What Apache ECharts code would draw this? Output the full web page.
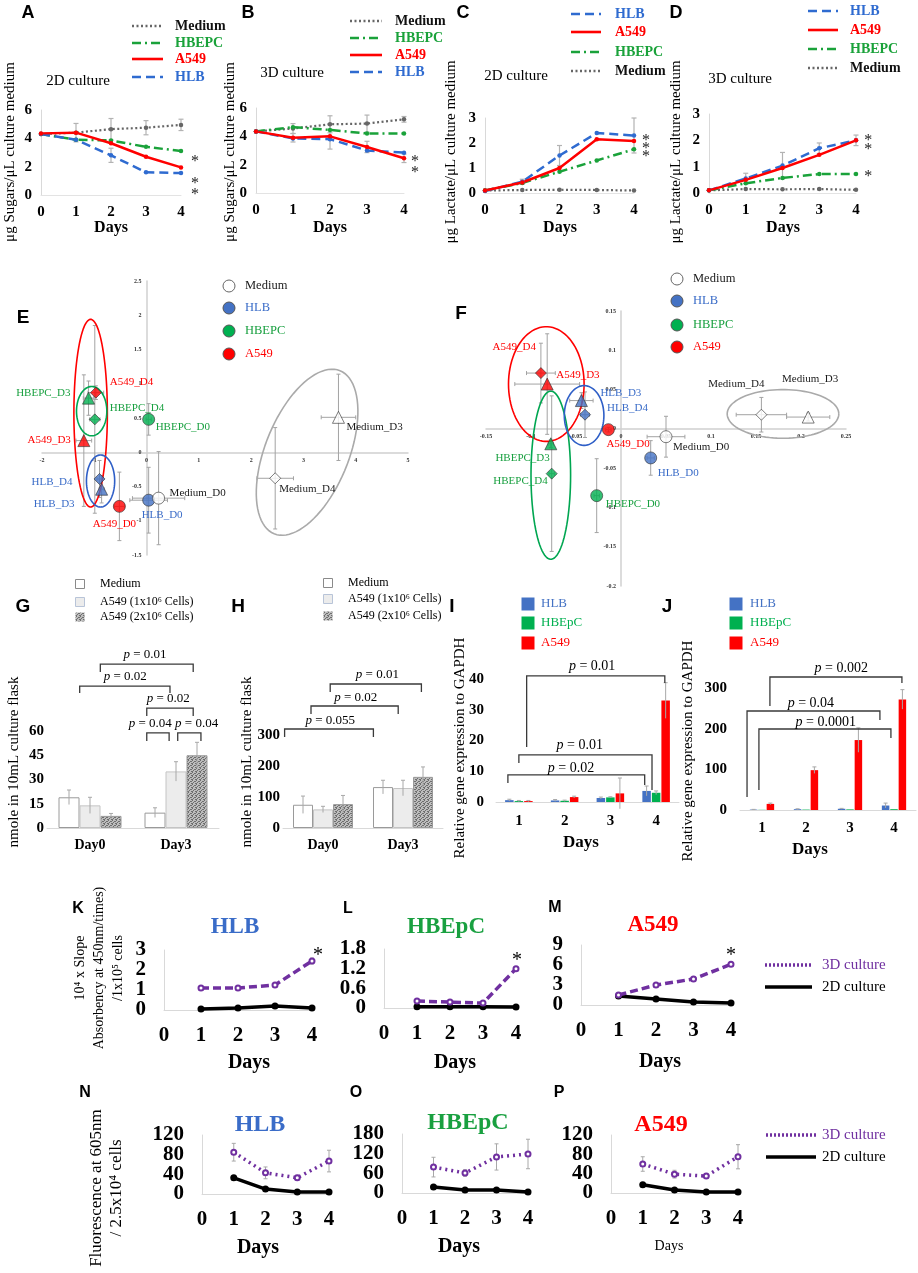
<!DOCTYPE html>
<html><head><meta charset="utf-8">
<script src="https://cdn.jsdelivr.net/npm/echarts@6/dist/echarts.min.js"></script>
<style>html,body{margin:0;padding:0;background:#fff}#c{width:918px;height:1273px}</style>
</head><body><div id="c"></div>
<script>
// ================= DATA =================
const dayTicks = [0,1,2,3,4];
// A: sugars, 2D culture
const sugar2D_Medium = [4.3,4.4,4.65,4.75,4.95];
const sugar2D_HBEPC  = [4.3,3.9,3.85,3.4,3.1];
const sugar2D_A549   = [4.35,4.4,3.65,2.7,1.95];
const sugar2D_HLB    = [4.3,3.9,2.8,1.6,1.55];
const sugar2D_MediumErr = [0,0.65,0.75,0.5,0.4];
const sugar2D_HLBErr    = [0,0,0.5,0,0];
// B: sugars, 3D culture
const sugar3D_Medium = [4.35,4.55,4.85,4.9,5.2];
const sugar3D_HBEPC  = [4.35,4.65,4.45,4.2,4.2];
const sugar3D_A549   = [4.35,3.9,4.0,3.25,2.45];
const sugar3D_HLB    = [4.35,3.85,3.8,3.0,2.85];
const sugar3D_MediumErr = [0,0.35,0.6,0.6,0.2];
const sugar3D_A549Err   = [0,0.3,0.9,0.4,0.3];
// C: lactate, 2D culture
const lact2D_HLB    = [0.08,0.45,1.5,2.4,2.3];
const lact2D_A549   = [0.1,0.42,1.0,2.15,2.08];
const lact2D_HBEPC  = [0.1,0.4,0.85,1.3,1.75];
const lact2D_Medium = [0.1,0.12,0.13,0.12,0.1];
const lact2D_HLBErr = [0,0.1,0.4,0,0.7];
// D: lactate, 3D culture
const lact3D_HLB    = [0.1,0.55,1.04,1.7,2.0];
const lact3D_A549   = [0.1,0.5,0.95,1.45,2.0];
const lact3D_HBEPC  = [0.1,0.37,0.57,0.72,0.72];
const lact3D_Medium = [0.1,0.15,0.14,0.15,0.12];
const lact3D_HLBErr = [0,0.2,0.5,0.2,0.2];

// E: PCA scores
const pcaE_names = ['A549_D4','HBEPC_D3','HBEPC_D4','A549_D3','HLB_D4','HLB_D3','A549_D0','HLB_D0','Medium_D0','HBEPC_D0','Medium_D3','Medium_D4'];
const pcaE_x    = [-0.97,-1.11,-0.99,-1.20,-0.90,-0.86,-0.52,0.04,0.23,0.04,3.67,2.46];
const pcaE_y    = [0.87,0.79,0.48,0.17,-0.39,-0.54,-0.79,-0.70,-0.67,0.48,0.51,-0.38];
const pcaE_xErr = [0.15,0.10,0.10,0.15,0.05,0.05,0.10,0.36,0.50,0.05,0.33,0.35];
const pcaE_yErr = [0.10,0.25,1.37,0.96,0.27,0.20,0.50,0.48,0.68,0.23,0.63,0.74];
const ellE_center = [[-1.07,0.57],[-1.05,0.60],[-0.88,-0.42],[3.07,0.0]];
const ellE_axisP  = [[0.32,0],[0.29,0],[0.27,0],[0.63,1.19]];
const ellE_axisQ  = [[0,1.37],[0,0.36],[0,0.38],[0.74,-0.23]];
const ellE_group  = ['A549','HBEPC','HLB','Medium'];
// F: PCA scores
const pcaF_names = ['A549_D4','A549_D3','HLB_D3','HLB_D4','A549_D0','Medium_D0','HLB_D0','HBEPC_D3','HBEPC_D4','HBEPC_D0','Medium_D4','Medium_D3'];
const pcaF_x    = [-0.089,-0.082,-0.044,-0.040,-0.014,0.050,0.033,-0.078,-0.077,-0.027,0.156,0.208];
const pcaF_y    = [0.071,0.057,0.036,0.018,-0.001,-0.010,-0.037,-0.019,-0.057,-0.085,0.018,0.015];
const pcaF_xErr = [0.016,0.036,0.013,0.005,0.003,0.021,0.004,0.003,0.003,0.003,0.028,0.024];
const pcaF_yErr = [0.038,0.064,0.010,0.029,0.003,0.026,0.022,0.005,0.099,0.047,0.022,0.005];
const ellF_center = [[-0.083,0.057],[-0.078,-0.059],[-0.041,0.017],[0.18,0.019]];
const ellF_axisP  = [[0.042,0],[0.022,0],[0.022,0],[0.062,0]];
const ellF_axisQ  = [[0,0.073],[0,0.107],[0,0.038],[0,0.031]];
const ellF_group  = ['A549','HBEPC','HLB','Medium'];

// G, H: nmole in flask
const flaskDays = ['Day0','Day3'];
const G_medium = [19,9.5],  G_mediumErr = [4.5,3];
const G_a549x1 = [14,35],   G_a549x1Err = [5,6];
const G_a549x2 = [7.5,45],  G_a549x2Err = [1.5,8];
const H_medium = [75,132],  H_mediumErr = [28,22];
const H_a549x1 = [60,129],  H_a549x1Err = [10,25];
const H_a549x2 = [77,165],  H_a549x2Err = [28,32];
// I, J: relative gene expression
const geneDays = ['1','2','3','4'];
const I_HLB   = [0.6,0.5,1.3,3.6],  I_HLBErr   = [0.3,0.3,0.3,1.6];
const I_HBEpC = [0.3,0.4,1.5,3.0],  I_HBEpCErr = [0.2,0.2,0.2,0.6];
const I_A549  = [0.3,1.6,2.8,33],   I_A549Err  = [0.2,0.3,5,5.8];
const J_HLB   = [1,2,3,11],         J_HLBErr   = [0.5,1,1,6];
const J_HBEpC = [0.5,1,1.5,2],      J_HBEpCErr = [0,0,0,0];
const J_A549  = [15,98,172,272],    J_A549Err  = [2,8,30,24];
// p-value brackets: [x1, x2, yBar, yLeftEnd, yRightEnd] (category index / value units)
const G_brackets = [[0.12,1.20,101.4,96.5,96.5],[-0.12,0.93,87.8,83.5,83.5],[0.66,1.20,74.2,69.3,69.3],[0.66,0.92,58.8,53.8,53.8],[1.02,1.29,58.8,53.8,53.8]];
const G_pValues  = ['0.01','0.02','0.02','0.04','0.04'];
const G_pAt      = [[0.64,107],[0.41,93.4],[0.91,79.8],[0.70,64.3],[1.24,64.3]];
const H_brackets = [[0.09,1.23,464.5,438.7,438.7],[-0.15,0.94,393.5,367.7,367.7],[-0.48,0.63,319.4,293.5,293.5]];
const H_pValues  = ['0.01','0.02','0.055'];
const H_pAt      = [[0.68,493.5],[0.41,419.4],[0.09,345.2]];
const I_brackets = [[0.17,3.19,41.0,17.9,38.7],[0.0,2.91,15.3,12.7,3.9],[-0.24,2.75,8.8,6.2,5.5]];
const I_pValues  = ['0.01','0.01','0.02'];
const I_pAt      = [[1.6,44.2],[1.33,18.5],[1.14,11.1]];
const J_brackets = [[0.18,3.18,327,255.7,312.3],[-0.34,2.68,243.4,32,221.3],[-0.07,2.93,199.2,49.2,177]];
const J_pValues  = ['0.002','0.04','0.0001'];
const J_pAt      = [[1.8,349],[1.11,263],[1.45,216.4]];

// K-P
const kDays = [1,2,3,4];
const K_3D = [1.1,1.1,1.25,2.45], K_3DErr = [0.05,0.05,0.05,0.15], K_2D = [0.05,0.1,0.2,0.1];
const L_3D = [0.21,0.18,0.15,1.2], L_3DErr = [0.02,0.02,0.02,0.05], L_2D = [0.04,0.04,0.04,0.03];
const M_3D = [1.5,3.0,3.9,6.1],   M_3DErr = [0.2,0.2,0.2,0.3],    M_2D = [1.35,0.9,0.45,0.3];
const N_3D = [85,43,33,67],  N_3DErr = [18,12,5,22],  N_2D = [33,10,4,4];
const O_3D = [79,61,110,119], O_3DErr = [30,10,40,45], O_2D = [18,9,9,3];
const P_3D = [60,39,35,75],  P_3DErr = [15,8,5,25],  P_2D = [17,6,2,2];
// y tick labels for K-P
const K_yTicks = ['0','1','2','3'];
const L_yTicks = ['0','0.6','1.2','1.8'];
const M_yTicks = ['0','3','6','9'];
const N_yTicks = ['0','40','80','120'];
const O_yTicks = ['0','60','120','180'];
const P_yTicks = ['0','40','80','120'];

// ================= STYLE / LAYOUT =================
const SERIF = '"Liberation Serif","Times New Roman",serif';
const SANS  = '"Liberation Sans",Arial,sans-serif';
const LS = {
  Medium:{color:'#666666', type:[2,2.5], w:2.2},
  HBEPC:{color:'#1aa23a', type:[9,4,2,4], w:2.5},
  A549:{color:'#ff0000', type:'solid', w:2.5},
  HLB:{color:'#2f6bd0', type:[9,5], w:2.5}
};
const PCOL = {Medium:'#ffffff', HLB:'#4472c4', HBEPC:'#00b050', A549:'#ff0000'};
const TCOL = {Medium:'#1a1a1a', HLB:'#3a6cc8', HBEPC:'#19a040', A549:'#ff0000'};
const ECOL = {Medium:'#aaaaaa', HLB:'#2f5fc7', HBEPC:'#00a651', A549:'#ff0000'};
const BCOL = {HLB:'#4472c4', HBEpC:'#00b050', A549:'#ff0000'};
const PURPLE = '#7030a0';
const GR = [
 {l:41,t:110,w:140,h:85},{l:256,t:108,w:148,h:85},{l:485,t:118,w:149,h:75},{l:709,t:114,w:147,h:79},
 {l:42,t:281,w:366,h:274},{l:486,t:311,w:360,h:275},
 {l:47,t:731,w:172,h:97},{l:283,t:735,w:160,h:93},{l:496,t:679,w:183,h:123},{l:740,t:688,w:176,h:122},
 {l:164,t:950,w:148,h:60},{l:384,t:949,w:132,h:59},{l:581,t:945,w:150,h:60},
 {l:202,t:1135,w:127,h:59},{l:402,t:1134,w:126,h:59},{l:611,t:1135,w:127,h:58}
];
const grid = GR.map(g=>({left:g.l, top:g.t, width:g.w, height:g.h, containLabel:false, outerBoundsMode:'none'}));
const xAxis = [], yAxis = [], series = [], gfx = [];
const lblFont = (size, weight)=>({fontFamily:SERIF, fontSize:size, fontWeight:weight||'bold', color:'#000', hideOverlap:false, showMinLabel:true, showMaxLabel:true});
const AX_LINE = {show:true, onZero:false, lineStyle:{color:'#d9d9d9', width:1}};

function grp(children){ return {type:'group', children}; }
function ln(x1,y1,x2,y2,c,w){ return {type:'line', shape:{x1,y1,x2,y2}, style:{stroke:c, lineWidth:w||1}}; }
function custom(gi, n, render, z){
  return {type:'custom', xAxisIndex:gi, yAxisIndex:gi, silent:true, clip:false, z:z||5,
    data: Array.from({length:n}, ()=>[0,0]), renderItem:(p,api)=>render(p.dataIndex, api)};
}
function catPt(api, x, y){ const o = api.coord([0,y]); return [o[0] + x*api.size([1,1])[0], o[1]]; }
function txtEl(x,y,text,font,fill,align){ return {type:'text', x, y, style:{text, font, fill:fill||'#000', align:align||'center', verticalAlign:'middle', textAlign:align||'center', textVerticalAlign:'middle'}}; }

// graphic helpers
function T(x,y,text,o){ o=o||{};
  gfx.push({type:'text', x, y, rotation:o.rot||0, z:10, silent:true, style:{text, fill:o.color||'#000',
    font:`${o.style||'normal'} ${o.weight||'normal'} ${o.size||14}px ${o.family||SERIF}`,
    align:o.align||'center', verticalAlign:'middle', textAlign:o.align||'center', textVerticalAlign:'middle', lineHeight:o.lh}}); }
function GL(x1,y1,x2,y2,c,w,dash){ gfx.push({type:'line', z:10, silent:true, shape:{x1,y1,x2,y2}, style:{stroke:c, lineWidth:w, lineDash:dash||null}}); }
function GR_(x,y,w,h,fill,stroke){ gfx.push({type:'rect', z:10, silent:true, shape:{x,y,width:w,height:h}, style:{fill, stroke:stroke||null, lineWidth:1}}); }
function GC(x,y,r,fill,stroke){ gfx.push({type:'circle', z:10, silent:true, shape:{cx:x,cy:y,r}, style:{fill, stroke, lineWidth:1}}); }

// speckle texture
function speckle(){ const c=document.createElement('canvas'); c.width=c.height=4; const g=c.getContext('2d');
  g.fillStyle='#bdbdbd'; g.fillRect(0,0,4,4); g.fillStyle='#6e6e6e';
  [[0,0],[2,1],[1,2],[3,3],[3,1],[0,3]].forEach(p=>g.fillRect(p[0],p[1],1,1)); return c; }
const SPECKLE = {image: speckle(), repeat:'repeat'};

// ================= TOP ROW (A-D) =================
function topPanel(gi, ymax, yint, lines, errs, stars){
  xAxis.push({gridIndex:gi, type:'value', min:0, max:4, interval:1, axisLine:{show:true,onZero:false,lineStyle:{color:'#e3e3e3'}}, axisTick:{show:false}, splitLine:{show:false}, axisLabel:Object.assign(lblFont(15),{margin:10})});
  yAxis.push({gridIndex:gi, type:'value', min:0, max:ymax, interval:yint, axisLine:AX_LINE, axisTick:{show:false}, splitLine:{show:false}, axisLabel:Object.assign(lblFont(15),{margin:9})});
  lines.forEach(([key, ys])=>{
    series.push({type:'line', xAxisIndex:gi, yAxisIndex:gi, silent:true, z:3, data: dayTicks.map((d,i)=>[d, ys[i]]),
      symbol:'circle', symbolSize:4.5, lineStyle:{color:LS[key].color, width:LS[key].w, type:LS[key].type}, itemStyle:{color:LS[key].color}});
  });
  errs.forEach(([ys, es])=>{
    series.push(custom(gi, ys.length, (i, api)=>{ if(!es[i]) return null;
      const a=api.coord([dayTicks[i], ys[i]-es[i]]), b=api.coord([dayTicks[i], ys[i]+es[i]]), c='#b3b3b3';
      return grp([ln(a[0],a[1],b[0],b[1],c,1.2), ln(a[0]-2.5,a[1],a[0]+2.5,a[1],c,1.2), ln(b[0]-2.5,b[1],b[0]+2.5,b[1],c,1.2)]); }, 2));
  });
  series.push(custom(gi, stars.length, (i, api)=>{ const p=api.coord(stars[i]); return txtEl(p[0], p[1]+4, '*', '16px '+SERIF, '#222'); }, 6));
}
topPanel(0, 6, 2, [['Medium',sugar2D_Medium],['HBEPC',sugar2D_HBEPC],['HLB',sugar2D_HLB],['A549',sugar2D_A549]],
  [[sugar2D_Medium,sugar2D_MediumErr],[sugar2D_HLB,sugar2D_HLBErr]], [[4.4,2.61],[4.4,1.06],[4.4,0.28]]);
topPanel(1, 6, 2, [['Medium',sugar3D_Medium],['HBEPC',sugar3D_HBEPC],['HLB',sugar3D_HLB],['A549',sugar3D_A549]],
  [[sugar3D_Medium,sugar3D_MediumErr],[sugar3D_A549,sugar3D_A549Err]], [[4.3,2.47],[4.3,1.69]]);
topPanel(2, 3, 1, [['Medium',lact2D_Medium],['HBEPC',lact2D_HBEPC],['HLB',lact2D_HLB],['A549',lact2D_A549]],
  [[lact2D_HLB,lact2D_HLBErr]], [[4.32,2.24],[4.32,1.92],[4.32,1.6]]);
topPanel(3, 3, 1, [['Medium',lact3D_Medium],['HBEPC',lact3D_HBEPC],['HLB',lact3D_HLB],['A549',lact3D_A549]],
  [[lact3D_HLB,lact3D_HLBErr]], [[4.33,2.13],[4.33,1.79],[4.33,0.76]]);

function topLegend(x1,x2,tx,rows,keys){
  keys.forEach((k,i)=>{ GL(x1,rows[i],x2,rows[i],LS[k].color,2.6,LS[k].type==='solid'?null:LS[k].type);
    T(tx,rows[i],k,{align:'left',weight:'bold',size:14,color:k==='Medium'?'#111':LS[k].color}); });
}
topLegend(132,163,175,[26,43,59,77],['Medium','HBEPC','A549','HLB']);
topLegend(350,382,395,[21,38,55,72],['Medium','HBEPC','A549','HLB']);
topLegend(571,601,615,[14,32,52,71],['HLB','A549','HBEPC','Medium']);
topLegend(808,838,850,[11,30,49,68],['HLB','A549','HBEPC','Medium']);
T(78,81,'2D culture',{size:15}); T(292,73,'3D culture',{size:15}); T(516,76,'2D culture',{size:15}); T(740,79,'3D culture',{size:15});
T(10,152,'μg Sugars/μL culture medium',{size:15,rot:Math.PI/2});
T(230,152,'μg Sugars/μL culture medium',{size:15,rot:Math.PI/2});
T(451,152,'μg Lactate/μL culture medium',{size:15,rot:Math.PI/2});
T(676,152,'μg Lactate/μL culture medium',{size:15,rot:Math.PI/2});
[[111,'Days'],[330,'Days'],[560,'Days'],[783,'Days']].forEach(d=>T(d[0],228,d[1],{size:16,weight:'bold'}));

// ================= E, F (PCA) =================
const SYM = {D0:'circle', D3:'triangle', D4:'diamond'}, SSZ = {D0:12, D3:12, D4:11};
const labE = [[14,-11,'left'],[-18,-5,'right'],[15,-11,'left'],[-13,0,'right'],[-27,3,'right'],[-27,15,'right'],[-5,18,'center'],[-7,15,'left'],[11,-5,'left'],[7,8,'left'],[8,10,'left'],[4,11,'left']];
const labF = [[-5,-26,'right'],[9,-9,'left'],[19,-7,'left'],[22,-7,'left'],[-2,14,'left'],[7,10,'left'],[7,15,'left'],[-1,14,'right'],[-4,7,'right'],[9,8,'left'],[3,-31,'right'],[2,-38,'center']];
function pcaPanel(gi, xr, yr, names, xs, ys, xe, ye, lab, ec, ep, eq, eg){
  const g = GR[gi];
  const axLbl = {fontFamily:SERIF, fontSize:6, fontWeight:'bold', color:'#333', margin:5, hideOverlap:false};
  // axes cross at the origin: shift each axis onto the other axis's zero
  const yShift = (0 - yr[0])/(yr[1]-yr[0]) * g.h;
  const xShift = (0 - xr[0])/(xr[1]-xr[0]) * g.w;
  xAxis.push({gridIndex:gi, type:'value', position:'bottom', offset:-yShift, min:xr[0], max:xr[1], interval:xr[2], axisLine:{show:true,onZero:false,lineStyle:{color:'#d0d0d0',width:1.5}}, axisTick:{show:false}, splitLine:{show:false}, axisLabel:axLbl});
  yAxis.push({gridIndex:gi, type:'value', position:'left', offset:-xShift, min:yr[0], max:yr[1], interval:yr[2], axisLine:{show:true,onZero:false,lineStyle:{color:'#d0d0d0',width:1.5}}, axisTick:{show:false}, splitLine:{show:false}, axisLabel:axLbl});
  series.push({type:'scatter', xAxisIndex:gi, yAxisIndex:gi, z:4, silent:true,
    data: names.map((n,i)=>{ const [g,d]=n.split('_'); return {value:[xs[i],ys[i]], symbol:SYM[d], symbolSize:SSZ[d], itemStyle:{color:PCOL[g], borderColor:'#333', borderWidth:0.8}}; })});
  series.push(custom(gi, names.length, (i, api)=>{
    const c=api.coord([xs[i],ys[i]]), a=api.coord([xs[i]-xe[i],ys[i]-ye[i]]), b=api.coord([xs[i]+xe[i],ys[i]+ye[i]]), k='#a3a3a3';
    return grp([ln(a[0],c[1],b[0],c[1],k,1), ln(c[0],a[1],c[0],b[1],k,1), ln(a[0],c[1]-2,a[0],c[1]+2,k,1), ln(b[0],c[1]-2,b[0],c[1]+2,k,1), ln(c[0]-2,a[1],c[0]+2,a[1],k,1), ln(c[0]-2,b[1],c[0]+2,b[1],k,1)]);
  }, 2));
  series.push(custom(gi, ec.length, (i, api)=>{
    const pts=[]; for(let s=0;s<=90;s++){ const t=s/90*2*Math.PI;
      pts.push(api.coord([ec[i][0]+ep[i][0]*Math.cos(t)+eq[i][0]*Math.sin(t), ec[i][1]+ep[i][1]*Math.cos(t)+eq[i][1]*Math.sin(t)])); }
    return {type:'polyline', shape:{points:pts}, style:{stroke:ECOL[eg[i]], lineWidth:1.6, fill:'none'}};
  }, 3));
  series.push(custom(gi, names.length, (i, api)=>{
    const c=api.coord([xs[i],ys[i]]), o=lab[i], g=names[i].split('_')[0];
    return txtEl(c[0]+o[0], c[1]+o[1], names[i], '11px '+SERIF, TCOL[g], o[2]);
  }, 6));
}
pcaPanel(4, [-2,5,1], [-1.5,2.5,0.5], pcaE_names, pcaE_x, pcaE_y, pcaE_xErr, pcaE_yErr, labE, ellE_center, ellE_axisP, ellE_axisQ, ellE_group);
pcaPanel(5, [-0.15,0.25,0.05], [-0.2,0.15,0.05], pcaF_names, pcaF_x, pcaF_y, pcaF_xErr, pcaF_yErr, labF, ellF_center, ellF_axisP, ellF_axisQ, ellF_group);
function pcaLegend(cx, tx, rows){
  ['Medium','HLB','HBEPC','A549'].forEach((k,i)=>{ GC(cx,rows[i],6,PCOL[k],k==='Medium'?'#666':'#555'); T(tx,rows[i],k,{align:'left',size:12.5,color:TCOL[k]}); });
}
pcaLegend(229,245,[286,308,331,354]);
pcaLegend(677,693,[279,301,325,347]);

// ================= G, H, I, J (bars) =================
function barPanel(gi, cats, ymax, yint, lblSize, xMargin, yMargin, bars, bw, gap, brackets, pvals, pAt, pSize){
  xAxis.push({gridIndex:gi, type:'category', data:cats, axisLine:{show:true,lineStyle:{color:'#d9d9d9'}}, axisTick:{show:false}, splitLine:{show:false}, axisLabel:Object.assign(lblFont(lblSize[0]),{margin:xMargin})});
  yAxis.push({gridIndex:gi, type:'value', min:0, max:ymax, interval:yint, axisLine:{show:false}, axisTick:{show:false}, splitLine:{show:false}, axisLabel:Object.assign(lblFont(lblSize[1]),{margin:yMargin})});
  bars.forEach(b=>series.push({type:'bar', xAxisIndex:gi, yAxisIndex:gi, silent:true, z:2, data:b.v, barWidth:bw, barGap:gap,
    itemStyle:{color:b.fill, borderColor:b.stroke||'transparent', borderWidth:b.stroke?1:0}}));
  const step = bw*(1+parseFloat(gap)/100), n = bars.length;
  const items=[]; bars.forEach((b,k)=>b.v.forEach((v,c)=>items.push([c,k,v,b.e[c]])));
  series.push(custom(gi, items.length, (i, api)=>{ const [c,k,v,e]=items[i]; if(!e) return null;
    const x = api.coord([c,0])[0] + (k-(n-1)/2)*step, y1=api.coord([c,v-e])[1], y2=api.coord([c,v+e])[1], col='#a8a8a8';
    return grp([ln(x,y1,x,y2,col,1), ln(x-2,y2,x+2,y2,col,1)]); }, 4));
  series.push(custom(gi, brackets.length, (i, api)=>{ const b=brackets[i];
    const p1=catPt(api,b[0],b[3]), p2=catPt(api,b[0],b[2]), p3=catPt(api,b[1],b[2]), p4=catPt(api,b[1],b[4]);
    return {type:'polyline', shape:{points:[p1,p2,p3,p4]}, style:{stroke:'#3a3a3a', lineWidth:1.3, fill:'none'}}; }, 5));
  series.push(custom(gi, pvals.length, (i, api)=>{ const p=catPt(api,pAt[i][0],pAt[i][1]);
    return {type:'text', x:p[0], y:p[1], style:{text:'{i|p} = '+pvals[i], fontFamily:SERIF, fontSize:pSize, fill:'#000', align:'center', verticalAlign:'middle', textAlign:'center', textVerticalAlign:'middle',
      rich:{i:{fontFamily:SERIF, fontSize:pSize, fontStyle:'italic', fill:'#000'}}}}; }, 6));
}
barPanel(6, flaskDays, 60, 15, [14,15], 10, 3, [
  {v:G_medium, e:G_mediumErr, fill:'#ffffff', stroke:'#9a9a9a'},
  {v:G_a549x1, e:G_a549x1Err, fill:'#ececec', stroke:'#c4c4c4'},
  {v:G_a549x2, e:G_a549x2Err, fill:SPECKLE, stroke:'#9a9a9a'}], 21, '0%', G_brackets, G_pValues, G_pAt, 13);
barPanel(7, flaskDays, 300, 100, [14,15], 10, 3, [
  {v:H_medium, e:H_mediumErr, fill:'#ffffff', stroke:'#9a9a9a'},
  {v:H_a549x1, e:H_a549x1Err, fill:'#ececec', stroke:'#c4c4c4'},
  {v:H_a549x2, e:H_a549x2Err, fill:SPECKLE, stroke:'#9a9a9a'}], 20, '0%', H_brackets, H_pValues, H_pAt, 13);
barPanel(8, geneDays, 40, 10, [15,15], 12, 12, [
  {v:I_HLB, e:I_HLBErr, fill:BCOL.HLB}, {v:I_HBEpC, e:I_HBEpCErr, fill:BCOL.HBEpC}, {v:I_A549, e:I_A549Err, fill:BCOL.A549}],
  8.5, '12%', I_brackets, I_pValues, I_pAt, 14);
barPanel(9, geneDays, 300, 100, [15,15], 11, 13, [
  {v:J_HLB, e:J_HLBErr, fill:BCOL.HLB}, {v:J_HBEpC, e:J_HBEpCErr, fill:BCOL.HBEpC}, {v:J_A549, e:J_A549Err, fill:BCOL.A549}],
  7.5, '12%', J_brackets, J_pValues, J_pAt, 14);
function flaskLegend(cx, tx, rows){
  GR_(cx-4.5,rows[0]-4.5,9,9,'#fff','#8a8a8a'); GR_(cx-4.5,rows[1]-4.5,9,9,'#ececec','#b8c4d8'); GR_(cx-4.5,rows[2]-4.5,9,9,SPECKLE,null);
  T(tx,rows[0],'Medium',{align:'left',size:12}); T(tx,rows[1],'A549 (1x10⁶ Cells)',{align:'left',size:12}); T(tx,rows[2],'A549 (2x10⁶ Cells)',{align:'left',size:12});
}
flaskLegend(80,100,[584,602,617]); flaskLegend(328,348,[583,599,616]);
function geneLegend(cx, tx, rows){
  ['HLB','HBEpC','A549'].forEach((k,i)=>{ GR_(cx-6.5,rows[i]-6.5,13,13,BCOL[k],null); T(tx,rows[i],k,{align:'left',size:13,color:BCOL[k]}); });
}
geneLegend(528,541,[604,623,643]); geneLegend(736,750,[604,623,643]);
T(14,762,'nmole in 10mL culture flask',{size:15,rot:Math.PI/2});
T(247,762,'nmole in 10mL culture flask',{size:15,rot:Math.PI/2});
T(460,748,'Relative gene expression to GAPDH',{size:15,rot:Math.PI/2});
T(688,751,'Relative gene expression to GAPDH',{size:15,rot:Math.PI/2});
T(581,843,'Days',{size:17,weight:'bold'}); T(810,850,'Days',{size:17,weight:'bold'});

// ================= K-P (time courses) =================
function kPanel(gi, ymax, yint, yTicks, d3, e3, d2, style3D, star){
  xAxis.push({gridIndex:gi, type:'value', min:0, max:4, interval:1, axisLine:{show:true,onZero:false,lineStyle:{color:'#d9d9d9'}}, axisTick:{show:false}, splitLine:{show:false}, axisLabel:Object.assign(lblFont(21),{margin:15})});
  yAxis.push({gridIndex:gi, type:'value', min:0, max:ymax, interval:yint, axisLine:AX_LINE, axisTick:{show:false}, splitLine:{show:false}, axisLabel:{show:false}});
  // tightly spaced y tick labels, placed through the axis scale
  series.push(custom(gi, yTicks.length, (i, api)=>{ const p=api.coord([0, parseFloat(yTicks[i])]);
    return txtEl(p[0]-18, p[1], yTicks[i], 'bold 21px '+SERIF, '#000', 'right'); }, 6));
  series.push({type:'line', xAxisIndex:gi, yAxisIndex:gi, silent:true, z:3, data:kDays.map((d,i)=>[d,d2[i]]), symbol:'circle', symbolSize:7,
    lineStyle:{color:'#000', width:3.5}, itemStyle:{color:'#000'}});
  series.push({type:'line', xAxisIndex:gi, yAxisIndex:gi, silent:true, z:4, data:kDays.map((d,i)=>[d,d3[i]]), symbol:'emptyCircle', symbolSize:5,
    lineStyle:{color:PURPLE, width:3.5, type:style3D}, itemStyle:{color:PURPLE, borderColor:PURPLE, borderWidth:1.5}});
  series.push(custom(gi, kDays.length, (i, api)=>{ if(!e3[i]) return null;
    const a=api.coord([kDays[i],d3[i]-e3[i]]), b=api.coord([kDays[i],d3[i]+e3[i]]), c='#a8a8a8';
    return grp([ln(a[0],a[1],b[0],b[1],c,1), ln(a[0]-2,a[1],a[0]+2,a[1],c,1), ln(b[0]-2,b[1],b[0]+2,b[1],c,1)]); }, 2));
  if(star) series.push(custom(gi, 1, (i, api)=>{ const p=api.coord(star); return txtEl(p[0], p[1]+6, '*', '20px '+SERIF, '#000'); }, 6));
}
kPanel(10, 3, 1, K_yTicks, K_3D, K_3DErr, K_2D, [8,4], [4.16,3.0]);
kPanel(11, 1.8, 0.6, L_yTicks, L_3D, L_3DErr, L_2D, [8,4], [4.03,1.62]);
kPanel(12, 9, 3, M_yTicks, M_3D, M_3DErr, M_2D, [8,4], [4.0,8.25]);
kPanel(13, 120, 40, N_yTicks, N_3D, N_3DErr, N_2D, [2,4], null);
kPanel(14, 180, 60, O_yTicks, O_3D, O_3DErr, O_2D, [2,4], null);
kPanel(15, 120, 40, P_yTicks, P_3D, P_3DErr, P_2D, [2,4], null);
T(235,927,'HLB',{size:23,weight:'bold',color:'#3a6cc8'}); T(446,927,'HBEpC',{size:23,weight:'bold',color:'#19a040'}); T(653,925,'A549',{size:23,weight:'bold',color:'#ff0000'});
T(260,1125,'HLB',{size:24,weight:'bold',color:'#3a6cc8'}); T(468,1123,'HBEpC',{size:24,weight:'bold',color:'#19a040'}); T(661,1125,'A549',{size:24,weight:'bold',color:'#ff0000'});
T(249,1063,'Days',{size:20,weight:'bold'}); T(455,1063,'Days',{size:20,weight:'bold'}); T(660,1062,'Days',{size:20,weight:'bold'});
T(258,1248,'Days',{size:20,weight:'bold'}); T(459,1247,'Days',{size:20,weight:'bold'}); T(669,1246,'Days',{size:14});
T(99,968,'10⁴ x Slope\nAbsorbency at 450nm/times)\n/1x10⁵ cells',{size:14,rot:Math.PI/2,lh:19});
T(107,1188,'Fluorescence at 605nm\n/ 2.5x10⁴ cells',{size:17,rot:Math.PI/2,lh:20});
function kLegend(y1,y2,x1,x2,tx,dash){
  GL(x1,y1,x2,y1,PURPLE,3.5,dash); T(tx,y1,'3D culture',{align:'left',size:15,color:PURPLE});
  GL(x1,y2,x2,y2,'#000',3.5,null); T(tx,y2,'2D culture',{align:'left',size:15});
}
kLegend(965,987,765,812,822,[2,2]); kLegend(1135,1157,766,816,822,[2,2]);

// panel letters
[['A',28,13],['B',248,13],['C',463,13],['D',676,13]].forEach(l=>T(l[1],l[2],l[0],{family:SANS,weight:'bold',size:18}));
[['E',23,318],['F',461,314],['G',23,607],['H',238,607],['I',452,607],['J',667,607]].forEach(l=>T(l[1],l[2],l[0],{family:SANS,weight:'bold',size:19}));
[['K',78,909],['L',348,909],['M',555,908],['N',85,1093],['O',356,1093],['P',559,1093]].forEach(l=>T(l[1],l[2],l[0],{family:SANS,weight:'bold',size:16}));

const chart = echarts.init(document.getElementById('c'), null, {renderer:'canvas'});
chart.setOption({animation:false, backgroundColor:'#ffffff', grid, xAxis, yAxis, series, graphic:{elements:gfx}});
</script></body></html>
